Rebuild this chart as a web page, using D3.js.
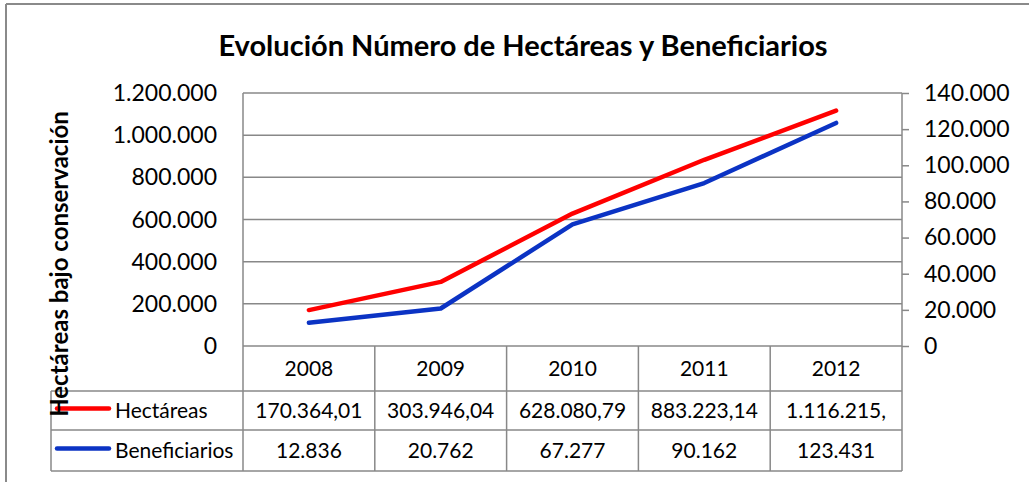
<!DOCTYPE html>
<html>
<head>
<meta charset="utf-8">
<script src="https://cdn.jsdelivr.net/npm/d3@7"></script>
<style>
  body { margin: 0; background: #fff; }
  svg { display: block; font-family: Lato, "Open Sans", sans-serif; }
</style>
</head>
<body>
<svg id="chart" width="1029" height="482"></svg>
<script>
// data
const years = ["2008", "2009", "2010", "2011", "2012"];
const hectareas = [170364.01, 303946.04, 628080.79, 883223.14, 1116215.0];
const beneficiarios = [12836, 20762, 67277, 90162, 123431];
const seriesNames = ["Hectáreas", "Beneficiarios"];
const leftTicks = [0, 200000, 400000, 600000, 800000, 1000000, 1200000];
const rightTicks = [0, 20000, 40000, 60000, 80000, 100000, 120000, 140000];

const es = d3.formatLocale({ decimal: ",", thousands: ".", grouping: [3], currency: ["", ""] });
const fmtInt = es.format(",d");
const fmtDec = es.format(",.2f");
const cellChars = 10; // the data table cuts longer numbers

const svg = d3.select("#chart");
const gray = "#888888";
const red = "#ff0000";
const blue = "#0b33c4";

// layout
const plot = { left: 243, right: 902, top: 93, bottom: 346 };
const rowBottoms = [391, 430, 471];
const legendLeft = 51;

const x = d3.scaleBand().domain(years).range([plot.left, plot.right]);
const yLeft = d3.scaleLinear().domain([0, 1200000]).range([plot.bottom, plot.top]);
const yRight = d3.scaleLinear().domain([0, 140000]).range([plot.bottom, plot.top]);

// outer frame
svg.append("line").attr("x1", 6).attr("x2", 6).attr("y1", 4).attr("y2", 482)
  .attr("stroke", "#8a8a8a").attr("stroke-width", 2);
svg.append("line").attr("x1", 6).attr("x2", 1029).attr("y1", 4).attr("y2", 4)
  .attr("stroke", "#8a8a8a").attr("stroke-width", 2);

// title
svg.append("text")
  .attr("x", 523).attr("y", 56)
  .attr("text-anchor", "middle")
  .attr("font-weight", "bold")
  .attr("font-size", 29)
  .text("Evolución Número de Hectáreas y Beneficiarios");

// gridlines
svg.append("g")
  .selectAll("line")
  .data(leftTicks)
  .enter()
  .append("line")
  .attr("x1", plot.left).attr("x2", plot.right)
  .attr("y1", (d) => yLeft(d)).attr("y2", (d) => yLeft(d))
  .attr("stroke", gray).attr("stroke-width", 1.5);

// left axis labels
svg.append("g")
  .selectAll("text")
  .data(leftTicks)
  .enter()
  .append("text")
  .attr("x", 217)
  .attr("y", (d) => yLeft(d))
  .attr("dy", "0.35em")
  .attr("text-anchor", "end")
  .attr("font-size", 23)
  .text((d) => fmtInt(d));

// right axis
const rightAxis = d3.axisRight(yRight)
  .tickValues(rightTicks)
  .tickSize(7)
  .tickPadding(15)
  .tickFormat((d) => fmtInt(d));
const ra = svg.append("g")
  .attr("transform", `translate(${plot.right},0)`)
  .call(rightAxis);
ra.select(".domain").remove();
ra.selectAll("line").attr("stroke", gray).attr("stroke-width", 1.5);
ra.selectAll("text")
  .attr("font-family", "Lato, sans-serif")
  .attr("font-size", 23)
  .attr("fill", "#000");

// table grid
const tg = svg.append("g").attr("stroke", gray).attr("stroke-width", 1.5);
x.domain().forEach((yr) => {
  tg.append("line")
    .attr("x1", x(yr)).attr("x2", x(yr))
    .attr("y1", yr === years[0] ? plot.top : plot.bottom)
    .attr("y2", rowBottoms[2]);
});
tg.append("line")
  .attr("x1", plot.right).attr("x2", plot.right)
  .attr("y1", plot.top).attr("y2", rowBottoms[2]);
tg.append("line")
  .attr("x1", legendLeft).attr("x2", legendLeft)
  .attr("y1", rowBottoms[0]).attr("y2", rowBottoms[2]);
rowBottoms.forEach((yy) => {
  tg.append("line")
    .attr("x1", legendLeft).attr("x2", plot.right)
    .attr("y1", yy).attr("y2", yy);
});

// header row
svg.append("g")
  .selectAll("text")
  .data(years)
  .enter()
  .append("text")
  .attr("x", (d) => x(d) + x.bandwidth() / 2)
  .attr("y", (plot.bottom + rowBottoms[0]) / 2)
  .attr("dy", "0.35em")
  .attr("text-anchor", "middle")
  .attr("font-size", 21)
  .text((d) => d);

const rows = [
  { name: seriesNames[0], values: hectareas, fmt: fmtDec, color: red },
  { name: seriesNames[1], values: beneficiarios, fmt: fmtInt, color: blue },
];

rows.forEach((row, i) => {
  const top = rowBottoms[i];
  const mid = (top + rowBottoms[i + 1]) / 2;
  svg.append("g")
    .selectAll("text")
    .data(row.values)
    .enter()
    .append("text")
    .attr("x", (d, j) => x(years[j]) + x.bandwidth() / 2)
    .attr("y", mid)
    .attr("dy", "0.35em")
    .attr("text-anchor", "middle")
    .attr("font-size", 21)
    .text((d) => row.fmt(d).slice(0, cellChars));

  // legend key
  svg.append("line")
    .attr("x1", 57).attr("x2", 109)
    .attr("y1", mid - 2).attr("y2", mid - 2)
    .attr("stroke", row.color)
    .attr("stroke-width", 4.5)
    .attr("stroke-linecap", "round");
  svg.append("text")
    .attr("x", 115).attr("y", mid)
    .attr("dy", "0.35em")
    .attr("font-size", 21)
    .text(row.name);
});

// series lines
const cx = (j) => x(years[j]) + x.bandwidth() / 2;
const lineLeft = d3.line().x((d, j) => cx(j)).y((d) => yLeft(d));
const lineRight = d3.line().x((d, j) => cx(j)).y((d) => yRight(d));

svg.append("path")
  .attr("d", lineRight(beneficiarios))
  .attr("fill", "none")
  .attr("stroke", blue)
  .attr("stroke-width", 4.5)
  .attr("stroke-linecap", "round")
  .attr("stroke-linejoin", "round");
svg.append("path")
  .attr("d", lineLeft(hectareas))
  .attr("fill", "none")
  .attr("stroke", red)
  .attr("stroke-width", 4.5)
  .attr("stroke-linecap", "round")
  .attr("stroke-linejoin", "round");

// y axis title (drawn last, it overlaps the legend as in the original)
svg.append("text")
  .attr("transform", "translate(68,264) rotate(-90)")
  .attr("text-anchor", "middle")
  .attr("font-weight", "bold")
  .attr("font-size", 24)
  .text("Hectáreas bajo conservación");
</script>
</body>
</html>
